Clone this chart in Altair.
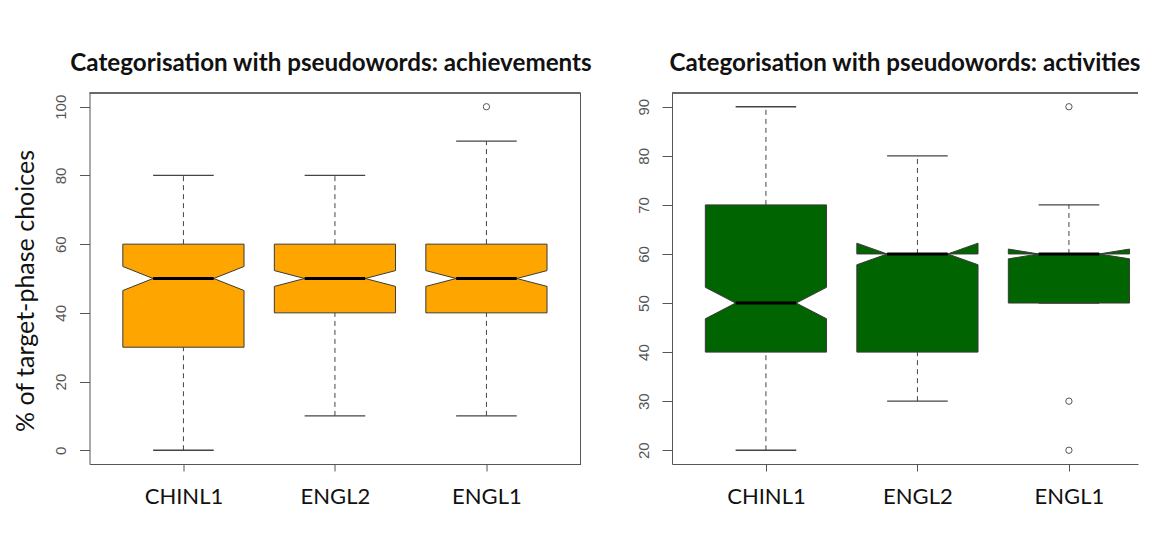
import altair as alt
import pandas as pd

categories = ["CHINL1", "ENGL2", "ENGL1"]

# Panel 1: achievements
ach_lower = [0, 10, 10]
ach_q1 = [30, 40, 40]
ach_median = [50, 50, 50]
ach_q3 = [60, 60, 60]
ach_upper = [80, 80, 90]
ach_notch_lo = [46.5, 47.7, 47.7]
ach_notch_hi = [53.5, 52.3, 52.3]
ach_out_cat = ["ENGL1"]
ach_out_val = [100]
ach_yticks = [0, 20, 40, 60, 80, 100]

# Panel 2: activities
act_lower = [20, 30, 50]
act_q1 = [40, 40, 50]
act_median = [50, 60, 60]
act_q3 = [70, 60, 60]
act_upper = [90, 80, 70]
act_notch_lo = [46.8, 57.8, 59.0]
act_notch_hi = [53.2, 62.2, 61.0]
act_out_cat = ["ENGL1", "ENGL1", "ENGL1"]
act_out_val = [90, 30, 20]
act_yticks = [20, 30, 40, 50, 60, 70, 80, 90]

BOX_HALF = 0.4
NOTCH_HALF = 0.2
CAP_HALF = 0.2
EDGE = "#555555"
LABEL_EXPR = "[" + ",".join("'%s'" % c for c in categories) + "][datum.value - 1]"
W_LEFT, W_RIGHT, H = 491, 466, 371
PX_PER_UNIT = 151.5


def panel(title, color, lower, q1, med, q3, upper, nlo, nhi, out_cat, out_val,
          ydomain, yticks, xmax, width, height, ytitle, title_dx):
    pos = {c: i + 1 for i, c in enumerate(categories)}
    poly = []
    for i, c in enumerate(categories):
        x0 = pos[c]
        pts = [(x0 - BOX_HALF, q1[i]), (x0 - BOX_HALF, nlo[i]), (x0 - NOTCH_HALF, med[i]),
               (x0 - BOX_HALF, nhi[i]), (x0 - BOX_HALF, q3[i]),
               (x0 + BOX_HALF, q3[i]), (x0 + BOX_HALF, nhi[i]), (x0 + NOTCH_HALF, med[i]),
               (x0 + BOX_HALF, nlo[i]), (x0 + BOX_HALF, q1[i]), (x0 - BOX_HALF, q1[i])]
        for k, (xv, yv) in enumerate(pts):
            poly.append(dict(cat=c, k=k, px=xv, py=yv))
    poly = pd.DataFrame(poly)

    stats = pd.DataFrame(dict(cat=categories, lower=lower, q1=q1, med=med, q3=q3, upper=upper))
    stats["x"] = stats["cat"].map(pos)
    stats["xc0"] = stats["x"] - CAP_HALF
    stats["xc1"] = stats["x"] + CAP_HALF
    stats["xn0"] = stats["x"] - NOTCH_HALF
    stats["xn1"] = stats["x"] + NOTCH_HALF

    outl = pd.DataFrame(dict(cat=out_cat, val=out_val))
    outl["x"] = outl["cat"].map(pos)

    xs = alt.Scale(domain=[0.38, xmax], nice=False, zero=False)
    ys = alt.Scale(domain=ydomain, nice=False, zero=False)

    xaxis = alt.Axis(values=[1, 2, 3], labelExpr=LABEL_EXPR, title=None, grid=False,
                     domain=True, domainColor=EDGE, tickColor=EDGE, tickSize=7,
                     labelFont="Lato", labelFontSize=22, labelColor="#111111",
                     labelPadding=15)
    yaxis_kw = dict(values=yticks, grid=False, domain=True, domainColor=EDGE,
                    tickColor=EDGE, tickSize=10, labelAngle=-90, labelAlign="center",
                    labelBaseline="bottom", labelFont="Liberation Sans",
                    labelFontSize=15, labelColor="#555555", labelPadding=11)
    if ytitle:
        yaxis = alt.Axis(title=ytitle, titleFont="Lato", titleFontSize=25,
                         titleFontWeight="normal", titleColor="#111111",
                         titlePadding=15, titleY=height / 2 + 12, **yaxis_kw)
    else:
        yaxis = alt.Axis(title=None, **yaxis_kw)

    def X(f):
        return alt.X(f, scale=xs, axis=xaxis)

    def Y(f):
        return alt.Y(f, scale=ys, axis=yaxis)

    whisk_hi = alt.Chart(stats).mark_rule(color="#444444", strokeDash=[5, 4], strokeWidth=1).encode(
        x=X("x:Q"), y=Y("q3:Q"), y2="upper:Q")
    whisk_lo = alt.Chart(stats).mark_rule(color="#444444", strokeDash=[5, 4], strokeWidth=1).encode(
        x=X("x:Q"), y=Y("lower:Q"), y2="q1:Q")
    cap_hi = alt.Chart(stats).mark_rule(color="#444444", strokeWidth=1.3).encode(
        x=X("xc0:Q"), x2="xc1:Q", y=Y("upper:Q"))
    cap_lo = alt.Chart(stats).mark_rule(color="#444444", strokeWidth=1.3).encode(
        x=X("xc0:Q"), x2="xc1:Q", y=Y("lower:Q"))
    box = alt.Chart(poly).mark_line(filled=True, fill=color, stroke="#3a3a3a",
                                    strokeWidth=1, opacity=1, fillOpacity=1).encode(
        x=X("px:Q"), y=Y("py:Q"), detail="cat:N", order=alt.Order("k:Q"))
    median = alt.Chart(stats).mark_rule(color="black", strokeWidth=3).encode(
        x=X("xn0:Q"), x2="xn1:Q", y=Y("med:Q"))
    outs = alt.Chart(outl).mark_point(shape="circle", filled=False, size=40, color="#555555",
                                      strokeWidth=1, opacity=1).encode(
        x=X("x:Q"), y=Y("val:Q"))
    top = alt.Chart(stats).mark_rule(color=EDGE, strokeWidth=1).encode(
        x=alt.value(0), x2=alt.value(width), y=alt.value(0))
    layers = [whisk_hi, whisk_lo, cap_hi, cap_lo, box, median, outs, top]
    return alt.layer(*layers).properties(
        width=width, height=height,
        title=alt.TitleParams(title, font="Lato", fontSize=24.2, fontWeight="bold",
                              color="#111111", anchor="middle", offset=16, dx=title_dx))


left = panel("Categorisation with pseudowords: achievements", "#FFA500",
             ach_lower, ach_q1, ach_median, ach_q3, ach_upper, ach_notch_lo, ach_notch_hi,
             ach_out_cat, ach_out_val, [-4, 104], ach_yticks, 0.38 + W_LEFT / PX_PER_UNIT,
             W_LEFT, H, "% of target-phase choices", -4)
right_border = alt.Chart(pd.DataFrame({"a": [0]})).mark_rule(color=EDGE, strokeWidth=1).encode(
    x=alt.value(W_LEFT), y=alt.value(0), y2=alt.value(H))
left = alt.layer(left, right_border)

right = panel("Categorisation with pseudowords: activities", "#006400",
              act_lower, act_q1, act_median, act_q3, act_upper, act_notch_lo, act_notch_hi,
              act_out_cat, act_out_val, [17.2, 92.8], act_yticks, 0.38 + W_RIGHT / PX_PER_UNIT,
              W_RIGHT, H, None, 0)

chart = alt.hconcat(left, right, spacing=42.5).properties(
    padding={"left": 5.5, "top": 44, "right": 0, "bottom": 5}
).configure(background="white").configure_view(strokeWidth=0, stroke="transparent")

chart.save("out.html", embed_options={"renderer": "svg", "actions": False})
